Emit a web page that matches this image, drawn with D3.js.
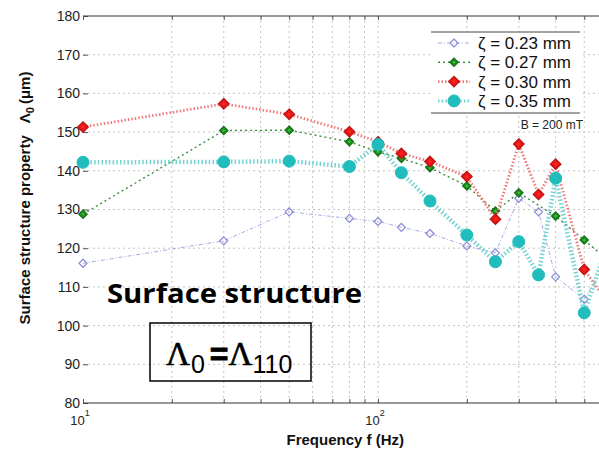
<!DOCTYPE html>
<html>
<head>
<meta charset="utf-8">
<script src="https://cdn.jsdelivr.net/npm/d3@7"></script>
<style>
body { margin: 0; background: #fff; }
svg { display: block; font-family: 'Liberation Sans', Arial, sans-serif; }
</style>
</head>
<body>
<div id="chart"></div>
<script>
// data
var freqs = [10, 30, 50, 80, 100, 120, 150, 200, 250, 300, 350, 400, 500, 600];
var zeta023 = [116.1, 121.9, 129.4, 127.7, 126.9, 125.4, 123.8, 120.6, 118.8, 132.9, 129.4, 112.6, 106.8, 117];
var zeta027 = [128.8, 150.4, 150.5, 147.5, 144.9, 143.2, 140.8, 136.1, 129.6, 134.3, null, 128.3, 122.1, 117];
var zeta030 = [151.3, 157.3, 154.6, 150.1, 147.5, 144.5, 142.4, 138.5, 127.5, 146.9, 133.9, 141.7, 114.5, 106];
var zeta035 = [142.2, 142.3, 142.5, 141.1, 146.8, 139.5, 132.2, 123.4, 116.5, 121.7, 113.1, 138.1, 103.3, 121];
var seriesNames = ['\u03B6 = 0.23 mm', '\u03B6 = 0.27 mm', '\u03B6 = 0.30 mm', '\u03B6 = 0.35 mm'];
var yTicks = [80, 90, 100, 110, 120, 130, 140, 150, 160, 170, 180];
var xMinor = [20, 30, 40, 50, 60, 70, 80, 90, 200, 300, 400, 500];
var xMajor = [10, 100];

var series = [
	{ name: seriesNames[0], values: zeta023, line: '#a8a8e8', lw: 1, dash: '4,2,1,2', mark: 'diamondOpen', mc: '#8a8ad8', ms: 4 },
	{ name: seriesNames[1], values: zeta027, line: '#3a8f3a', lw: 1.4, dash: '2,3', mark: 'diamond', mc: '#1f8a1f', ms: 4.2 },
	{ name: seriesNames[2], values: zeta030, line: '#ef7a7a', lw: 2.8, dash: '1.5,2', mark: 'diamond', mc: '#e81818', ms: 5.3 },
	{ name: seriesNames[3], values: zeta035, line: '#74d2d2', lw: 4.5, dash: '1.5,2.2', mark: 'circle', mc: '#21bcbc', ms: 6 }
];

var W = 599, H = 452;
var margin = { top: 16, left: 83 };
var plotRight = 607.6, plotBottom = 403;

var svg = d3.select('#chart').append('svg')
	.attr('width', W)
	.attr('height', H);

var x = d3.scaleLog().domain([10, 600]).range([margin.left, plotRight]);
var y = d3.scaleLinear().domain([80, 180]).range([plotBottom, margin.top]);

svg.append('defs').append('clipPath')
	.attr('id', 'clip')
	.append('rect')
	.attr('x', margin.left - 8).attr('y', margin.top - 8)
	.attr('width', plotRight - margin.left + 16).attr('height', plotBottom - margin.top + 16);

// grid
var grid = svg.append('g').attr('class', 'grid');
grid.selectAll('.hgrid')
	.data(yTicks.slice(1, -1))
	.enter().append('line')
	.attr('x1', margin.left).attr('x2', plotRight)
	.attr('y1', d => y(d)).attr('y2', d => y(d))
	.attr('stroke', '#c4c4c4')
	.attr('stroke-dasharray', '2,3');
grid.selectAll('.vgrid')
	.data(xMinor.concat([100]))
	.enter().append('line')
	.attr('x1', d => x(d)).attr('x2', d => x(d))
	.attr('y1', margin.top).attr('y2', plotBottom)
	.attr('stroke', '#c4c4c4')
	.attr('stroke-dasharray', '2,3');

// axes frame (top + bottom only, left edge is not drawn in the original)
var yAxis = d3.axisLeft(y).tickValues(yTicks).tickSize(-5).tickPadding(8).tickFormat(d3.format('d'));
var xAxis = d3.axisBottom(x).tickValues(xMinor.concat(xMajor)).tickSize(-4).tickFormat('');
var xAxisTop = d3.axisTop(x).tickValues(xMinor.concat(xMajor)).tickSize(-4).tickFormat('');

var gy = svg.append('g')
	.attr('transform', 'translate(' + margin.left + ',0)')
	.call(yAxis);
gy.select('.domain').remove();
gy.selectAll('line').attr('stroke', '#555');
gy.selectAll('text')
	.attr('x', -3)
	.style('font-size', '14px')
	.style('fill', '#222');

var gx = svg.append('g')
	.attr('transform', 'translate(0,' + plotBottom + ')')
	.call(xAxis);
gx.select('.domain').attr('stroke', '#333').attr('d', 'M' + margin.left + ',0H' + plotRight);
gx.selectAll('line').attr('stroke', '#555');

var gxt = svg.append('g')
	.attr('transform', 'translate(0,' + margin.top + ')')
	.call(xAxisTop);
gxt.select('.domain').attr('stroke', '#333').attr('d', 'M' + margin.left + ',0H' + plotRight);
gxt.selectAll('line').attr('stroke', '#555');

// x tick labels 10^1, 10^2
var xl = svg.selectAll('.xlab')
	.data(xMajor)
	.enter().append('text')
	.attr('x', d => x(d) - 3)
	.attr('y', 425)
	.attr('text-anchor', 'middle')
	.style('font-size', '13px')
	.style('fill', '#222');
xl.append('tspan').text('10');
xl.append('tspan')
	.attr('dy', -9)
	.style('font-size', '9px')
	.text(d => Math.round(Math.log10(d)));

// axis titles
svg.append('text')
	.attr('x', (margin.left + plotRight) / 2)
	.attr('y', 445)
	.attr('text-anchor', 'middle')
	.style('font-size', '15px')
	.style('font-weight', 'bold')
	.style('fill', '#111')
	.text('Frequency f (Hz)');

var yt = svg.append('text')
	.attr('transform', 'rotate(-90)')
	.attr('x', -198)
	.attr('y', 30)
	.attr('text-anchor', 'middle')
	.style('font-size', '15px')
	.style('font-weight', 'bold')
	.style('fill', '#111');
yt.append('tspan').text('Surface structure property');
yt.append('tspan').attr('dx', 12).text('\u039B');
yt.append('tspan').attr('dy', 4).style('font-size', '11px').text('0');
yt.append('tspan').attr('dy', -4).attr('dx', 3).text('(\u03BCm)');

// series
var line = d3.line()
	.x(d => x(d.f))
	.y(d => y(d.v));

var diamond = function (s) {
	return 'M0,' + (-s) + 'L' + s + ',0L0,' + s + 'L' + (-s) + ',0Z';
};

function drawMarker (g, s) {
	if (s.mark === 'circle') {
		g.append('circle').attr('r', s.ms).attr('fill', s.mc).attr('stroke', s.mc);
	} else if (s.mark === 'diamondOpen') {
		g.append('path').attr('d', diamond(s.ms)).attr('fill', 'none').attr('stroke', s.mc).attr('stroke-width', 1.2);
	} else {
		g.append('path').attr('d', diamond(s.ms)).attr('fill', s.mc).attr('stroke', d3.color(s.mc).darker(0.6)).attr('stroke-width', 1.2);
		g.append('path').attr('d', diamond(s.ms * 0.35)).attr('fill', d3.color(s.mc).brighter(1.2));
	}
}

var plot = svg.append('g').attr('clip-path', 'url(#clip)');
series.forEach(function (s) {
	var pts = freqs.map((f, i) => ({ f: f, v: s.values[i] })).filter(d => d.v !== null);
	plot.append('path')
		.datum(pts)
		.attr('d', line)
		.attr('fill', 'none')
		.attr('stroke', s.line)
		.attr('stroke-width', s.lw)
		.attr('stroke-dasharray', s.dash);
	plot.selectAll(null)
		.data(pts)
		.enter().append('g')
		.attr('transform', d => 'translate(' + x(d.f) + ',' + y(d.v) + ')')
		.each(function () { drawMarker(d3.select(this), s); });
});

// legend
var lg = svg.append('g');
lg.append('rect')
	.attr('x', 431).attr('y', 32).attr('width', 149).attr('height', 81)
	.attr('fill', '#fff');
lg.append('line').attr('x1', 431).attr('x2', 580).attr('y1', 32).attr('y2', 32).attr('stroke', '#444');
lg.append('line').attr('x1', 431).attr('x2', 580).attr('y1', 113).attr('y2', 113).attr('stroke', '#444');
series.forEach(function (s, i) {
	var ly = 43 + i * 19.3;
	lg.append('line')
		.attr('x1', 438).attr('x2', 470).attr('y1', ly).attr('y2', ly)
		.attr('stroke', s.line).attr('stroke-width', Math.min(s.lw, 3))
		.attr('stroke-dasharray', s.dash);
	var m = lg.append('g').attr('transform', 'translate(454,' + ly + ')');
	drawMarker(m, s);
	lg.append('text')
		.attr('x', 478).attr('y', ly + 6)
		.style('font-size', '17px')
		.style('fill', '#111')
		.text(s.name);
});
svg.append('text')
	.attr('x', 583).attr('y', 129)
	.attr('text-anchor', 'end')
	.style('font-size', '12px')
	.style('fill', '#222')
	.text('B = 200 mT');

// annotation
svg.append('text')
	.attr('x', 107).attr('y', 303)
	.attr('textLength', 255)
	.attr('lengthAdjust', 'spacingAndGlyphs')
	.style('font-family', "'Open Sans', 'Noto Sans', sans-serif")
	.style('font-size', '27px')
	.style('font-weight', 'bold')
	.style('fill', '#000')
	.text('Surface structure');

svg.append('rect')
	.attr('x', 150).attr('y', 323).attr('width', 161).attr('height', 58)
	.attr('fill', 'none')
	.attr('stroke', '#000')
	.attr('stroke-width', 1.5);

var eq = svg.append('text')
	.attr('x', 166).attr('y', 365)
	.style('fill', '#000');
eq.append('tspan').style('font-family', "'Liberation Serif', serif").style('font-size', '33px').style('stroke', '#000').style('stroke-width', 0.6).text('\u039B');
eq.append('tspan').attr('dy', 8).attr('dx', 1).style('font-size', '25px').text('0');
eq.append('tspan').attr('dy', -8).attr('dx', 5).style('font-size', '32px').style('font-weight', 'bold').style('stroke', '#000').style('stroke-width', 0.8).text('=');
eq.append('tspan').style('font-family', "'Liberation Serif', serif").style('font-size', '33px').style('stroke', '#000').style('stroke-width', 0.6).text('\u039B');
eq.append('tspan').attr('dy', 8).style('font-size', '25px').text('110');
</script>
</body>
</html>
